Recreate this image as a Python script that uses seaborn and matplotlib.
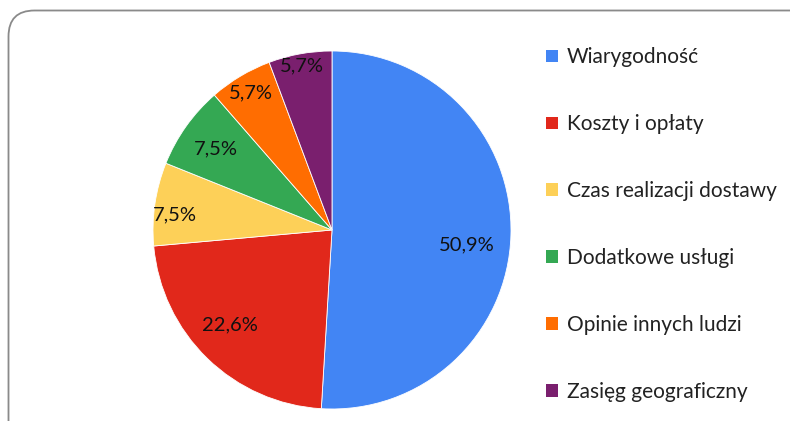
import matplotlib
matplotlib.use("Agg")
import matplotlib.pyplot as plt
from matplotlib.patches import FancyBboxPatch, Patch
import numpy as np
import seaborn as sns

categories = ["Wiarygodność", "Koszty i opłaty", "Czas realizacji dostawy",
              "Dodatkowe usługi", "Opinie innych ludzi", "Zasięg geograficzny"]
values = [50.9, 22.6, 7.5, 7.5, 5.7, 5.7]
value_labels = ["50,9%", "22,6%", "7,5%", "7,5%", "5,7%", "5,7%"]
colors = ["#4285F4", "#E1281B", "#FDD058", "#34A853", "#FF6D01", "#7A1F6E"]
label_dist = [0.76, 0.78, 0.88, 0.79, 0.89, 0.93]
label_angle_shift = [-4.5, -3.0, 3.0, 0.5, 0.0, 0.0]

sns.set_theme(style="white")
plt.rcParams["font.family"] = ["Lato", "DejaVu Sans"]

W, H = 790, 421
fig = plt.figure(figsize=(W / 100, H / 100), dpi=100)

# background frame
bg = fig.add_axes([0, 0, 1, 1], zorder=0)
bg.set_xlim(0, W)
bg.set_ylim(H, 0)
bg.axis("off")
frame = FancyBboxPatch((8.5, 10.5), 820, 440, boxstyle="round,pad=0,rounding_size=26",
                       facecolor="white", edgecolor="#8a8a8a", linewidth=1.3)
bg.add_patch(frame)

# pie axes
cx, cy, r = 332, 230, 179
ax = fig.add_axes([(cx - r) / W, (H - cy - r) / H, 2 * r / W, 2 * r / H], zorder=1)
wedges, _ = ax.pie(values, colors=colors, startangle=90, counterclock=False,
                   wedgeprops=dict(linewidth=0.6, edgecolor="white"))
ax.set_xlim(-1, 1)
ax.set_ylim(-1, 1)
ax.set_aspect("equal")
ax.axis("off")

for w, lab, d, sh in zip(wedges, value_labels, label_dist, label_angle_shift):
    ang = np.deg2rad((w.theta1 + w.theta2) / 2 + sh)
    ax.text(d * np.cos(ang), d * np.sin(ang), lab, ha="center", va="center",
            fontsize=14.5, color="#111111")

handles = [Patch(facecolor=c, edgecolor="none") for c in colors]
fig.legend(handles, categories, loc="upper left", bbox_to_anchor=(538 / W, 1 - 39 / H),
           frameon=False, fontsize=15, handlelength=0.55, handleheight=0.55,
           handletextpad=0.45, labelspacing=2.25, borderaxespad=0, labelcolor="#222222")

fig.savefig("out.png", dpi=100)
